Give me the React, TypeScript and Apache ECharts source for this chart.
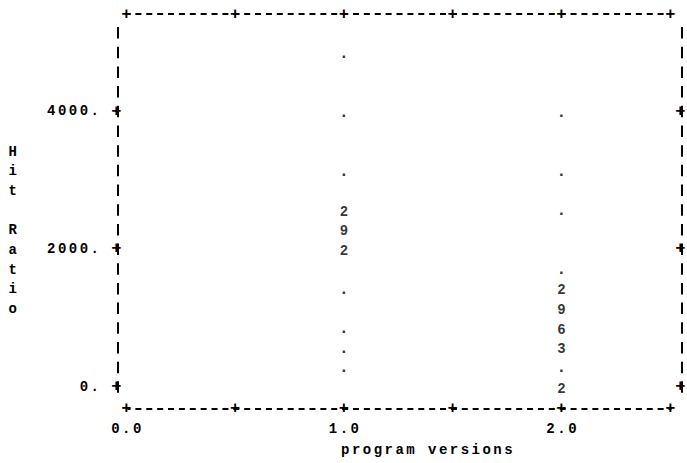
import React, { useEffect, useRef } from 'react';
import * as echarts from 'echarts';

// ---- data ----
const xTickValues = [0, 0.5, 1, 1.5, 2, 2.5];
const xLabelValues = [0, 1, 2];
const yLabelValues = [0, 2000, 4000];

const version1X = 1.0;
const version1Values = [4857, 4000, 3143, 2571, 2286, 2000, 1429, 857, 571, 286];
const version1Symbols = ['.', '.', '.', '2', '9', '2', '.', '.', '.', '.'];

const version2X = 2.0;
const version2Values = [4000, 3143, 2571, 1714, 1429, 1143, 857, 571, 286, 0];
const version2Symbols = ['.', '.', '.', '.', '2', '9', '6', '3', '.', '2'];

const xAxisTitle = 'program versions';
const yAxisTitle = 'Hit Ratio';

// axis extents (half a print row beyond the outer rows)
const yMin = -143;
const yMax = 5286;
const xMin = 0;
const xMax = 2.5;

// ---- styling ----
const FONT = 'Liberation Mono';
const FS = 14;
const PLUS_FS = 17;
const ROW = 19.68;

const textBase = {
  fontFamily: FONT,
  fontSize: FS,
  fontWeight: 'bold' as const,
  color: '#000',
};

const plusText = { ...textBase, fontSize: PLUS_FS };

const dashedH = { color: '#000', width: 2, type: [6, 4.88], dashOffset: 3, cap: 'butt' };
const dashedV = { color: '#000', width: 2, type: [11.5, 8.18], dashOffset: 15.59, cap: 'butt' };

function buildData(x: number, values: number[], symbols: string[]) {
  return values.map((v, i) => {
    const isDot = symbols[i] === '.';
    return {
      value: [x, v],
      sym: symbols[i],
      label: isDot ? { offset: [0, 1], fontSize: 17 } : { offset: [0, 2] },
    };
  });
}

const hidden = {
  axisTick: { show: false },
  splitLine: { show: false },
};

export default function App() {
  const ref = useRef<HTMLDivElement>(null);

  useEffect(() => {
    if (!ref.current) return;
    const chart = echarts.init(ref.current, undefined, { renderer: 'svg' });

    const scatterBase = {
      type: 'scatter',
      xAxisIndex: 0,
      yAxisIndex: 0,
      symbolSize: 1,
      itemStyle: { color: 'rgba(0,0,0,0)' },
      silent: true,
      label: {
        show: true,
        position: 'inside',
        ...textBase,
        formatter: (p: any) => p.data.sym,
      },
    };

    chart.setOption({
      animation: false,
      backgroundColor: '#fff',
      title: [
        {
          text: xAxisTitle,
          left: 341,
          top: 442,
          padding: 0,
          textStyle: { ...textBase, lineHeight: 16 },
        },
        {
          text: yAxisTitle.split('').join('\n'),
          left: 8.5,
          top: 386.7 - 12 * ROW - ROW / 2 + 1,
          padding: 0,
          textStyle: { ...textBase, lineHeight: ROW },
        },
      ],
      grid: {
        left: 127.5,
        right: 15.5,
        top: 22.6,
        bottom: 66.5,
        containLabel: false,
        outerBoundsMode: 'none',
      },
      xAxis: [
        {
          type: 'value',
          position: 'bottom',
          offset: 12,
          min: xMin,
          max: xMax,
          interval: 0.5,
          axisLine: { show: true, onZero: false, lineStyle: dashedH },
          ...hidden,
          axisLabel: {
            ...plusText,
            customValues: xTickValues,
            formatter: () => '+',
            margin: 0,
            verticalAlign: 'middle',
          },
        },
        {
          type: 'value',
          position: 'bottom',
          offset: 12,
          min: xMin,
          max: xMax,
          interval: 0.5,
          axisLine: { show: false, onZero: false },
          ...hidden,
          axisLabel: {
            ...textBase,
            customValues: xLabelValues,
            formatter: (v: number) => v.toFixed(1),
            margin: 20.5,
            verticalAlign: 'middle',
          },
        },
        {
          type: 'value',
          position: 'top',
          offset: 8.6,
          min: xMin,
          max: xMax,
          interval: 0.5,
          axisLine: { show: true, onZero: false, lineStyle: dashedH },
          ...hidden,
          axisLabel: {
            ...plusText,
            customValues: xTickValues,
            formatter: () => '+',
            margin: 0,
            verticalAlign: 'middle',
          },
        },
      ],
      yAxis: [
        {
          type: 'value',
          position: 'left',
          offset: 10,
          min: yMin,
          max: yMax,
          axisLine: { show: true, onZero: false, lineStyle: dashedV },
          ...hidden,
          axisLabel: {
            ...textBase,
            customValues: yLabelValues,
            formatter: (v: number) => `${v}.`,
            margin: 16,
            verticalAlign: 'middle',
            padding: [2, 0, 0, 0],
          },
        },
        {
          type: 'value',
          position: 'left',
          offset: 10,
          min: yMin,
          max: yMax,
          axisLine: { show: false, onZero: false },
          ...hidden,
          axisLabel: {
            ...plusText,
            customValues: yLabelValues,
            formatter: () => '+',
            margin: 0,
            align: 'center',
            verticalAlign: 'middle',
          },
        },
        {
          type: 'value',
          position: 'right',
          offset: 10,
          min: yMin,
          max: yMax,
          axisLine: { show: true, onZero: false, lineStyle: dashedV },
          ...hidden,
          axisLabel: {
            ...plusText,
            customValues: yLabelValues,
            formatter: () => '+',
            margin: 0,
            align: 'center',
            verticalAlign: 'middle',
          },
        },
      ],
      series: [
        { ...scatterBase, name: 'version 1', data: buildData(version1X, version1Values, version1Symbols) },
        { ...scatterBase, name: 'version 2', data: buildData(version2X, version2Values, version2Symbols) },
      ],
    });

    return () => chart.dispose();
  }, []);

  return (
    <>
      <style>{'.lp-chart text{letter-spacing:2.48px}'}</style>
      <div
        ref={ref}
        className="lp-chart"
        style={{ position: 'fixed', left: 0, top: 0, width: 687, height: 463, background: '#fff' }}
      />
    </>
  );
}
